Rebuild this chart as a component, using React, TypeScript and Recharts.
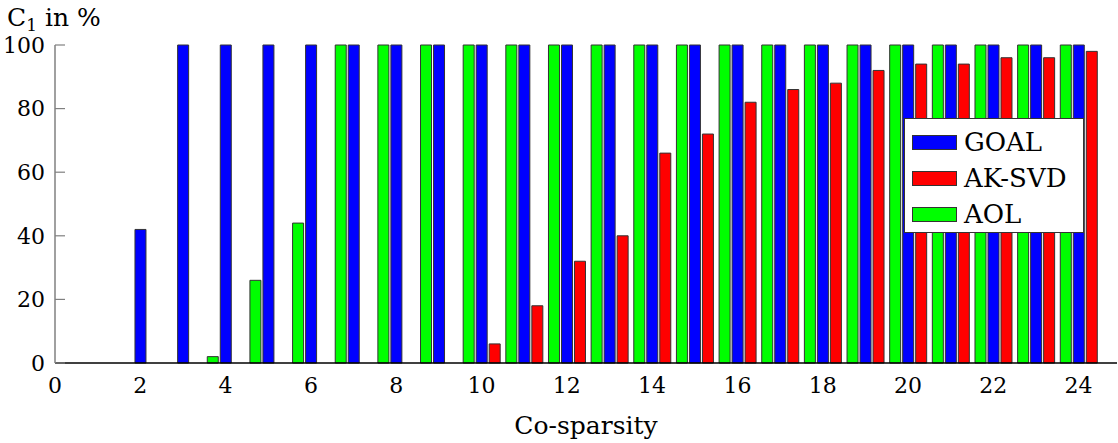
import React from 'react'
import { BarChart, Bar, XAxis, YAxis, Legend, Label } from 'recharts'

const coSparsity = [0, 1, 2, 3, 4, 5, 6, 7, 8, 9, 10, 11, 12, 13, 14, 15, 16, 17, 18, 19, 20, 21, 22, 23, 24]
const goal = [0, 0, 42, 100, 100, 100, 100, 100, 100, 100, 100, 100, 100, 100, 100, 100, 100, 100, 100, 100, 100, 100, 100, 100, 100]
const akSvd = [0, 0, 0, 0, 0, 0, 0, 0, 0, 0, 6, 18, 32, 40, 66, 72, 82, 86, 88, 92, 94, 94, 96, 96, 98]
const aol = [0, 0, 0, 0, 2, 26, 44, 100, 100, 100, 100, 100, 100, 100, 100, 100, 100, 100, 100, 100, 100, 100, 100, 100, 100]

const xTicks = [0, 2, 4, 6, 8, 10, 12, 14, 16, 18, 20, 22, 24]
const yTicks = [0, 20, 40, 60, 80, 100]

const legendItems = [
  { name: 'GOAL', color: '#0000ff' },
  { name: 'AK-SVD', color: '#ff0000' },
  { name: 'AOL', color: '#00ff00' },
]

const data = coSparsity.map((x, i) => ({ x, goal: goal[i], akSvd: akSvd[i], aol: aol[i] }))

const FONT = '"DejaVu Serif", serif'

const LegendBox = () => (
  <div
    style={{
      width: 180,
      height: 115,
      border: '1px solid #333',
      background: '#fff',
      boxSizing: 'border-box',
      paddingTop: 5,
      fontFamily: FONT,
      fontSize: 26,
      color: '#000',
    }}
  >
    {legendItems.map((item) => (
      <div key={item.name} style={{ display: 'flex', alignItems: 'center', height: 36 }}>
        <div
          style={{
            width: 45,
            height: 15,
            marginLeft: 7,
            marginRight: 7,
            background: item.color,
            border: '1px solid #333',
            boxSizing: 'border-box',
          }}
        />
        <span style={{ lineHeight: 1 }}>{item.name}</span>
      </div>
    ))}
  </div>
)

export default function App() {
  return (
    <div style={{ position: 'absolute', left: 0, top: 0, width: 1118, height: 443, background: '#fff' }}>
      <BarChart
        width={1118}
        height={443}
        data={data}
        margin={{ top: 45, right: 1, bottom: 0, left: 5 }}
        barGap={2}
      >
        <XAxis
          dataKey="x"
          type="number"
          domain={[0, 24.9]}
          ticks={xTicks}
          height={80}
          tickSize={0}
          tickMargin={14}
          axisLine={{ stroke: '#000', strokeWidth: 1.5 }}
          tick={{ fill: '#000', fontSize: 22, fontFamily: FONT }}
        >
          <Label
            value="Co-sparsity"
            position="insideBottom"
            offset={9}
            style={{ fill: '#000', fontSize: 25, fontFamily: FONT }}
          />
        </XAxis>
        <YAxis
          type="number"
          domain={[0, 100]}
          ticks={yTicks}
          width={50}
          tickSize={-10}
          tickMargin={20}
          axisLine={{ stroke: '#808080', strokeWidth: 1.5 }}
          tickLine={{ stroke: '#808080', strokeWidth: 1.2 }}
          tick={{ fill: '#000', fontSize: 22, fontFamily: FONT }}
        />
        <Legend
          layout="horizontal"
          verticalAlign="middle"
          align="center"
          content={<LegendBox />}
          wrapperStyle={{ position: 'absolute', left: 904, top: 118, width: 180, height: 115 }}
        />
        <Bar dataKey="aol" name="AOL" fill="#00ff00" stroke="#333" strokeWidth={1} barSize={11} isAnimationActive={false} />
        <Bar dataKey="goal" name="GOAL" fill="#0000ff" stroke="#333" strokeWidth={1} barSize={11} isAnimationActive={false} />
        <Bar dataKey="akSvd" name="AK-SVD" fill="#ff0000" stroke="#333" strokeWidth={1} barSize={11} isAnimationActive={false} />
      </BarChart>
      <svg width={140} height={40} style={{ position: 'absolute', left: 0, top: 0 }}>
        <text x={7} y={26} fontFamily={FONT} fontSize={25} fill="#000">
          C<tspan fontSize={17} dy={5}>1</tspan>
          <tspan dy={-5}> in %</tspan>
        </text>
      </svg>
    </div>
  )
}
